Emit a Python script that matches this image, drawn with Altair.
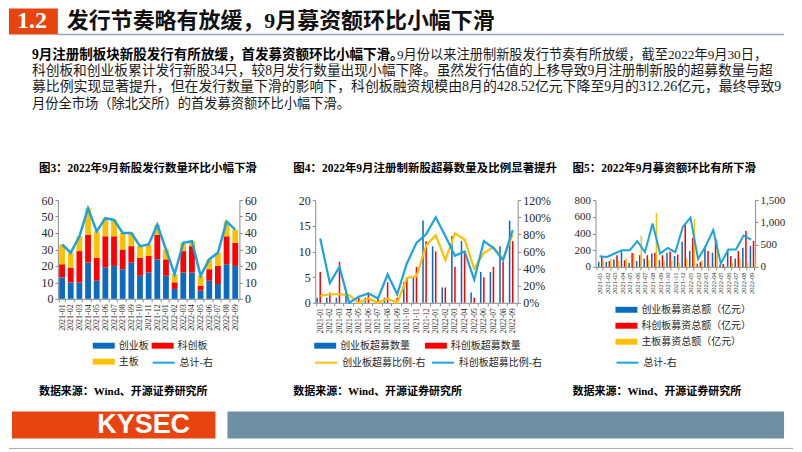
import altair as alt
import pandas as pd

# ---------------- data ----------------
months = ["2021-01", "2021-02", "2021-03", "2021-04", "2021-05", "2021-06", "2021-07",
          "2021-08", "2021-09", "2021-10", "2021-11", "2021-12", "2022-01", "2022-02",
          "2022-03", "2022-04", "2022-05", "2022-06", "2022-07", "2022-08", "2022-09"]

# 图3 新股发行数量（只）
f3_names = ["创业板", "科创板", "主板"]
f3_cyb = [13, 10, 10, 22, 11, 19, 20, 18, 22, 14, 16, 24, 14, 6, 16, 16, 5, 11, 9, 21, 20]
f3_kcb = [8, 9, 19, 17, 14, 19, 18, 12, 10, 11, 10, 15, 10, 4, 13, 16, 3, 7, 11, 17, 14]
f3_zb = [12, 9, 9, 16, 16, 11, 10, 10, 8, 7, 7, 6, 6, 5, 5, 3, 6, 6, 8, 9, 8]
f3_line_name = "总计-右"
f3_total = [33, 28, 38, 55, 41, 49, 48, 40, 40, 32, 33, 45, 30, 15, 34, 35, 14, 24, 28, 47, 42]

# 图4 超募数量及比例
f4_bar_names = ["创业板超募数量", "科创板超募数量"]
f4_cyb = [1, 1, 1, 2, 0, 1, 0, 1, 0, 4, 5, 16, 11, 3, 13, 12, 2, 6, 6, 11, 16]
f4_kcb = [6, 2, 8, 0, 1, 2, 1, 4, 1, 5, 7, 12, 10, 3, 7, 10, 1, 5, 7, 8, 12]
f4_line_names = ["创业板超募比例-右", "科创板超募比例-右"]
f4_cyb_ratio = [0.08, 0.10, 0.10, 0.09, 0.00, 0.05, 0.00, 0.05, 0.00, 0.29, 0.31, 0.67,
                0.79, 0.50, 0.81, 0.74, 0.40, 0.58, 0.65, 0.51, 0.80]
f4_kcb_ratio = [0.75, 0.23, 0.42, 0.00, 0.07, 0.11, 0.05, 0.33, 0.10, 0.46, 0.70, 0.80,
                1.00, 0.78, 0.55, 0.60, 0.27, 0.72, 0.64, 0.50, 0.85]

# 图5 募资总额（亿元）
f5_bar_names = ["创业板募资总额（亿元）", "科创板募资总额（亿元）", "主板募资总额（亿元）"]
f5_cyb = [60, 60, 90, 195, 50, 70, 100, 160, 80, 170, 130, 300, 190, 40, 250, 170, 30, 210, 100, 230, 250]
f5_kcb = [120, 70, 140, 80, 165, 140, 140, 170, 140, 185, 150, 500, 345, 60, 190, 330, 35, 130, 190, 430, 312]
f5_zb = [60, 95, 70, 100, 160, 370, 90, 645, 80, 73, 50, 100, 570, 80, 25, 325, 10, 50, 100, 45, 50]
f5_line_name = "总计-右"
f5_total = [240, 225, 300, 375, 375, 578, 330, 975, 300, 428, 330, 900, 1105, 180, 465, 825, 75, 390, 390, 705, 612]

# texts
section_no = "1.2"
header_title = "发行节奏略有放缓，9月募资额环比小幅下滑"
body_bold = "9月注册制板块新股发行有所放缓，首发募资额环比小幅下滑。"
body_lines = [
    "9月份以来注册制新股发行节奏有所放缓，截至2022年9月30日，",
    "科创板和创业板累计发行新股34只，较8月发行数量出现小幅下降。虽然发行估值的上移导致9月注册制新股的超募数量与超",
    "募比例实现显著提升，但在发行数量下滑的影响下，科创板融资规模由8月的428.52亿元下降至9月的312.26亿元，最终导致9",
    "月份全市场（除北交所）的首发募资额环比小幅下滑。",
]
fig_titles = ["图3：2022年9月新股发行数量环比小幅下滑",
              "图4：2022年9月注册制新股超募数量及比例显著提升",
              "图5：2022年9月募资额环比有所下滑"]
source_text = "数据来源：Wind、开源证券研究所"
brand = "KYSEC"

# ---------------- style ----------------
BLUE = "#0B6BC0"
RED = "#FF0000"
YELLOW = "#FFC000"
SKY = "#1AA3E3"
ORANGE = "#E8440F"
STEEL = "#6E8FA4"
AXC = "#8C8C8C"
LAB = "#262626"
FRAME = "#A8A8A8"
SERIF = "'Liberation Serif', 'Noto Sans CJK SC'"
CJK = "'Noto Sans CJK SC'"
RECT = "M-1,-0.27H1V0.27H-1Z"
W = 786


def long_df(names, series):
    rows = []
    for k, (n, s) in enumerate(zip(names, series)):
        for m, v in zip(months, s):
            rows.append({"month": m, "series": n, "value": v, "k": k})
    return pd.DataFrame(rows)


def xaxis(fs):
    return alt.Axis(title=None, labelAngle=270, labelFontSize=fs, labelFont=SERIF,
                    labelColor=LAB, domainColor=AXC, tickColor=AXC, tickSize=3,
                    tickBand="extent", labelPadding=2, grid=False)


def yaxis(vals, fs, orient="left", fmt="d"):
    return alt.Axis(title=None, values=vals, labelFontSize=fs, labelFont=SERIF,
                    labelColor=LAB, domainColor=AXC, tickColor=AXC, tickSize=3,
                    labelPadding=2, grid=False, orient=orient, format=fmt)


def bar_legend(lx, ly, cols, colpad, rowpad, direction="vertical"):
    return alt.Legend(title=None, orient="none", legendX=lx, legendY=ly, columns=cols,
                      direction=direction,
                      columnPadding=colpad, rowPadding=rowpad, symbolType=RECT,
                      symbolSize=484, symbolStrokeWidth=0, symbolOpacity=1,
                      labelFont=CJK, labelFontSize=10, labelColor=LAB, labelOffset=4,
                      padding=0, labelLimit=300)


def line_legend(lx, ly, cols, colpad):
    return alt.Legend(title=None, orient="none", legendX=lx, legendY=ly, columns=cols,
                      direction="horizontal",
                      columnPadding=colpad, symbolType="stroke", symbolSize=484,
                      symbolStrokeWidth=2, labelFont=CJK, labelFontSize=10,
                      labelColor=LAB, labelOffset=4, padding=0, labelLimit=300)


def ftitle(t, dx):
    return alt.TitleParams(t, anchor="start", frame="group", dx=dx, offset=11,
                           baseline="alphabetic", font=SERIF, fontSize=11.5,
                           fontWeight="bold", color="#000000")


one = pd.DataFrame({"d": [0]})


def source_mark(dx):
    return alt.Chart(one).mark_text(font=SERIF, fontWeight="bold", fontSize=11, color="#000000",
                                    align="left", baseline="middle").encode(
        x=alt.value(dx), y=alt.value(192), text=alt.value(source_text))


def spacer(w, h=1):
    return alt.Chart(one).mark_rect(color="white").encode(
        x=alt.value(0), x2=alt.value(w), y=alt.value(0), y2=alt.value(h)).properties(width=w, height=h)


# ---------------- 图3 ----------------
df3 = long_df(f3_names, [f3_cyb, f3_kcb, f3_zb])
dl3 = pd.DataFrame({"month": months, "total": f3_total, "name": f3_line_name})
x3 = alt.X("month:N", sort=months, scale=alt.Scale(paddingInner=0.33, paddingOuter=0.15), axis=xaxis(8))
bars3 = alt.Chart(df3).mark_bar().encode(
    x=x3,
    y=alt.Y("value:Q", stack="zero", scale=alt.Scale(domain=[0, 60], nice=False),
            axis=yaxis([0, 10, 20, 30, 40, 50, 60], 12)),
    color=alt.Color("series:N", sort=f3_names,
                    scale=alt.Scale(domain=f3_names, range=[BLUE, RED, YELLOW]),
                    legend=bar_legend(35, 135, 2, 3, -5, "horizontal")),
    order=alt.Order("k:Q", sort="ascending"),
)
line3 = alt.Chart(dl3).mark_line(strokeWidth=2.5).encode(
    x=x3,
    y=alt.Y("total:Q", scale=alt.Scale(domain=[0, 60], nice=False),
            axis=yaxis([0, 10, 20, 30, 40, 50, 60], 12, "right")),
    color=alt.Color("name:N", scale=alt.Scale(domain=[f3_line_name], range=[SKY]),
                    legend=line_legend(94, 151, 1, 0)),
)
p3 = alt.layer(bars3, line3, source_mark(-19)).resolve_scale(
    y="independent", color="independent").properties(
    width=182, height=99, title=ftitle(fig_titles[0], -19))

# ---------------- 图4 ----------------
df4 = long_df(f4_bar_names, [f4_cyb, f4_kcb])
dl4 = long_df(f4_line_names, [f4_cyb_ratio, f4_kcb_ratio])
x4 = alt.X("month:N", sort=months, scale=alt.Scale(paddingInner=0.2, paddingOuter=0.12), axis=xaxis(7.5))
bars4 = alt.Chart(df4).mark_bar().encode(
    x=x4,
    xOffset=alt.XOffset("series:N", sort=f4_bar_names, scale=alt.Scale(paddingInner=0)),
    y=alt.Y("value:Q", scale=alt.Scale(domain=[0, 20], nice=False),
            axis=yaxis([0, 5, 10, 15, 20], 12)),
    color=alt.Color("series:N", sort=f4_bar_names,
                    scale=alt.Scale(domain=f4_bar_names, range=[BLUE, RED]),
                    legend=bar_legend(-1, 135, 2, 15, 0, "horizontal")),
)
line4 = alt.Chart(dl4).mark_line(strokeWidth=2.2).encode(
    x=x4,
    y=alt.Y("value:Q", scale=alt.Scale(domain=[0, 1.2], nice=False),
            axis=yaxis([0, 0.2, 0.4, 0.6, 0.8, 1.0, 1.2], 12, "right", ".0%")),
    color=alt.Color("series:N", sort=f4_line_names,
                    scale=alt.Scale(domain=f4_line_names, range=[YELLOW, SKY]),
                    legend=line_legend(-1, 151, 2, 2)),
)
p4 = alt.layer(bars4, line4, source_mark(-22)).resolve_scale(
    y="independent", color="independent").properties(
    width=203, height=103, title=ftitle(fig_titles[1], -22))

# ---------------- 图5 ----------------
df5 = long_df(f5_bar_names, [f5_cyb, f5_kcb, f5_zb])
dl5 = pd.DataFrame({"month": months, "total": f5_total, "name": f5_line_name})
x5 = alt.X("month:N", sort=months, scale=alt.Scale(paddingInner=0.2, paddingOuter=0.12), axis=xaxis(6.5))
bars5 = alt.Chart(df5).mark_bar().encode(
    x=x5,
    xOffset=alt.XOffset("series:N", sort=f5_bar_names, scale=alt.Scale(paddingInner=0)),
    y=alt.Y("value:Q", scale=alt.Scale(domain=[0, 800], nice=False),
            axis=yaxis([0, 200, 400, 600, 800], 11)),
    color=alt.Color("series:N", sort=f5_bar_names,
                    scale=alt.Scale(domain=f5_bar_names, range=[BLUE, RED, YELLOW]),
                    legend=bar_legend(20, 99, 1, 0, -4.5)),
)
line5 = alt.Chart(dl5).mark_line(strokeWidth=2).encode(
    x=x5,
    y=alt.Y("total:Q", scale=alt.Scale(domain=[0, 1500], nice=False),
            axis=yaxis([0, 500, 1000, 1500], 11, "right", ",d")),
    color=alt.Color("name:N", scale=alt.Scale(domain=[f5_line_name], range=[SKY]),
                    legend=line_legend(20, 151, 1, 0)),
)
p5 = alt.layer(bars5, line5, source_mark(-23)).resolve_scale(
    y="independent", color="independent").properties(
    width=160, height=67, title=ftitle(fig_titles[2], -23))

# ---------------- header ----------------
HH = 154
hb = alt.Chart(one)
body_y = [47, 63, 79, 96]
body_fs = [13.27, 13.76, 13.92, 13.3]
header_layers = [
    hb.mark_rect(color="white").encode(x=alt.value(0), x2=alt.value(W), y=alt.value(0), y2=alt.value(HH)),
    hb.mark_rect(color=ORANGE).encode(x=alt.value(0), x2=alt.value(49), y=alt.value(0), y2=alt.value(26)),
    hb.mark_rule(color="#9AA7B3", strokeWidth=1.5).encode(x=alt.value(49), x2=alt.value(777), y=alt.value(26)),
    hb.mark_text(font="Liberation Serif", fontWeight="bold", fontSize=24, color="white",
                 align="center", baseline="middle").encode(x=alt.value(23), y=alt.value(12), text=alt.value(section_no)),
    hb.mark_text(font=SERIF, fontWeight="bold", fontSize=22, color="#111111",
                 align="left", baseline="middle").encode(x=alt.value(58), y=alt.value(12), text=alt.value(header_title)),
    hb.mark_text(font=SERIF, fontWeight="bold", fontSize=13.57, color="#000000",
                 align="left", baseline="middle").encode(x=alt.value(23), y=alt.value(body_y[0]), text=alt.value(body_bold)),
    hb.mark_text(font=SERIF, fontSize=body_fs[0], color="#1a1a1a",
                 align="left", baseline="middle").encode(x=alt.value(389), y=alt.value(body_y[0]), text=alt.value(body_lines[0])),
]
for i in range(1, 4):
    header_layers.append(
        hb.mark_text(font=SERIF, fontSize=body_fs[i], color="#1a1a1a", align="left", baseline="middle").encode(
            x=alt.value(23), y=alt.value(body_y[i]), text=alt.value(body_lines[i])))
header = alt.layer(*header_layers).properties(width=W, height=HH)

# ---------------- footer ----------------
HF = 53
fb = alt.Chart(one)
footer_layers = [
    fb.mark_rect(color="white").encode(x=alt.value(0), x2=alt.value(W), y=alt.value(0), y2=alt.value(HF)),
    fb.mark_rect(color=ORANGE).encode(x=alt.value(3), x2=alt.value(207), y=alt.value(15), y2=alt.value(42)),
    fb.mark_rect(color=STEEL).encode(x=alt.value(219), x2=alt.value(777), y=alt.value(15), y2=alt.value(42)),
    fb.mark_text(font="Liberation Sans", fontWeight="bold", fontSize=27, color="white",
                 align="center", baseline="middle").encode(x=alt.value(135), y=alt.value(29), text=alt.value(brand)),
    fb.mark_rule(color=FRAME, strokeWidth=1).encode(x=alt.value(0), x2=alt.value(W), y=alt.value(HF - 1)),
]
footer = alt.layer(*footer_layers).properties(width=W, height=HF)

middle = alt.hconcat(spacer(30), p3, spacer(36), p4, spacer(15), p5, spacing=0)

chart = alt.vconcat(header, middle, footer, spacing=0).properties(padding=0).configure_view(
    strokeWidth=0)

chart.save("out.html", embed_options={"renderer": "svg", "actions": False})
